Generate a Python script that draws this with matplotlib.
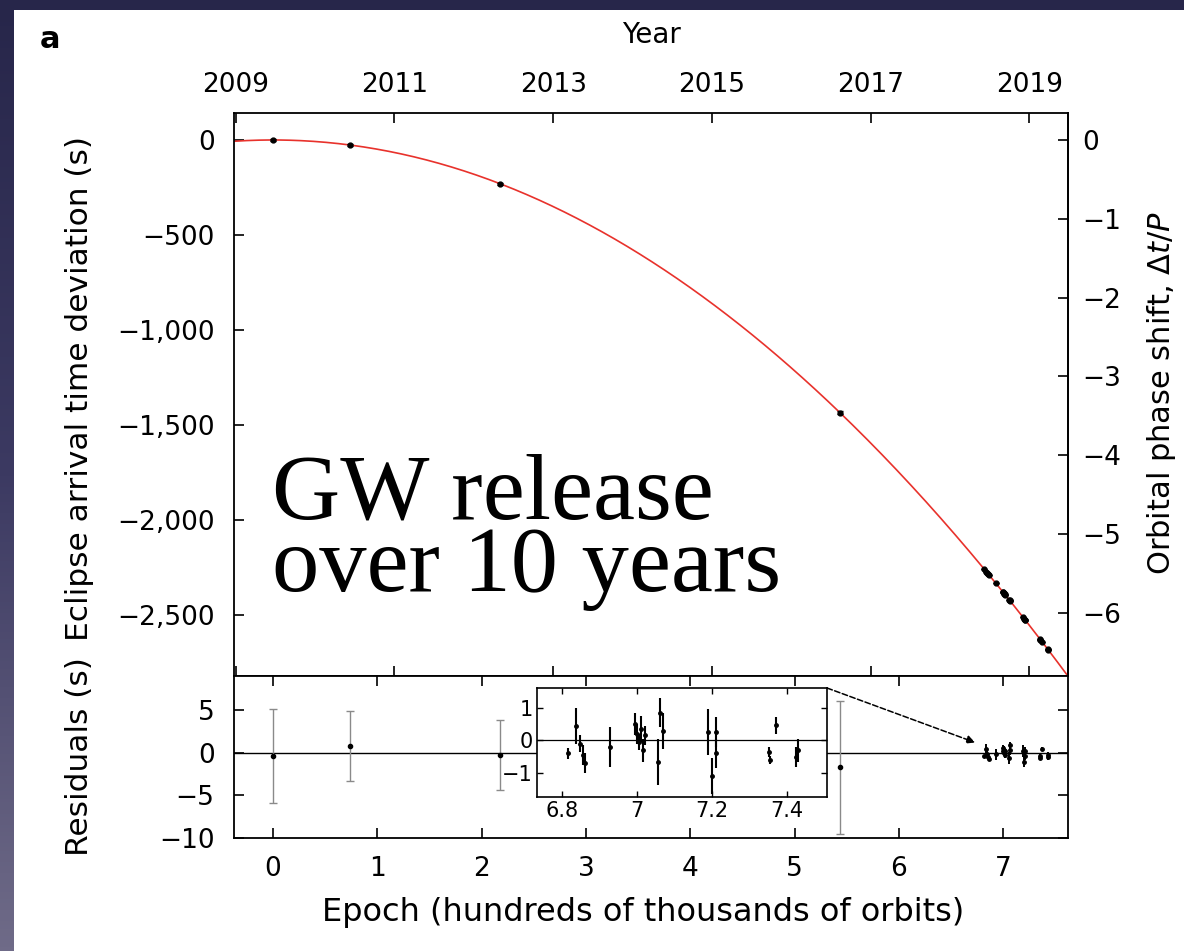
import numpy as np
import matplotlib.pyplot as plt
from matplotlib.colors import LinearSegmentedColormap
from matplotlib.patches import Rectangle
from matplotlib.ticker import FuncFormatter

W, H = 1184, 951

P_ORB = 414.79                                   # orbital period (s)
ORB_PER_YEAR = 365.25 * 86400 / P_ORB / 1e5      # 1e5 orbits per year
YEAR_AT_EPOCH0 = 2009.47
DECAY = -48.6                                    # s per (1e5 orbits)^2

# eclipse timings: epoch (1e5 orbits), residual (s), 1-sigma error (s)
early_epoch = [0.0, 0.735, 2.18, 5.43]
early_resid = [-0.4, 0.8, -0.3, -1.7]
early_err = [5.5, 4.1, 4.1, 7.8]

late_epoch = [6.815, 6.838, 6.848, 6.855, 6.862, 6.928, 6.995, 7.000, 7.005, 7.010, 7.015, 7.020,
              7.055, 7.062, 7.068, 7.190, 7.200, 7.210, 7.212, 7.352, 7.356, 7.372, 7.425, 7.430]
late_resid = [-0.40, 0.45, -0.10, -0.45, -0.70, -0.20, 0.50, 0.20, -0.05, 0.35, -0.30, 0.15,
              -0.65, 0.85, 0.30, 0.25, -1.10, 0.25, -0.40, -0.35, -0.60, 0.46, -0.50, -0.30]
late_err = [0.18, 0.55, 0.25, 0.30, 0.30, 0.60, 0.35, 0.30, 0.25, 0.40, 0.35, 0.30,
            0.70, 0.45, 0.55, 0.70, 0.55, 0.45, 0.45, 0.15, 0.12, 0.26, 0.30, 0.35]

year_ticks = [2009, 2011, 2013, 2015, 2017, 2019]
delay_ticks = [0, -500, -1000, -1500, -2000, -2500]
phase_ticks = [0, -1, -2, -3, -4, -5, -6]
epoch_ticks = [0, 1, 2, 3, 4, 5, 6, 7]
resid_ticks = [5, 0, -5, -10]
inset_xticks = [6.8, 7.0, 7.2, 7.4]
inset_xlabels = ["6.8", "7", "7.2", "7.4"]
inset_yticks = [1, 0, -1]

XLIM = (-0.374, 7.62)


def year_to_epoch(year):
    return (np.asarray(year, dtype=float) - YEAR_AT_EPOCH0) * ORB_PER_YEAR


def model(epoch):
    return DECAY * np.asarray(epoch, dtype=float) ** 2


def px_axes(fig, x0, y0, x1, y1):
    # axes placed by pixel corners (top-left origin)
    return fig.add_axes([x0 / W, 1 - y1 / H, (x1 - x0) / W, (y1 - y0) / H])


def style_spines(ax, lw=1.3):
    for s in ax.spines.values():
        s.set_linewidth(lw)
        s.set_color("black")


plt.rcParams["font.family"] = ["DejaVu Sans"]
plt.rcParams["mathtext.fontset"] = "dejavusans"

fig = plt.figure(figsize=(W / 100, H / 100), dpi=100)

# slide background + white panel
bg = fig.add_axes([0, 0, 1, 1])
cmap = LinearSegmentedColormap.from_list("slide", ["#6f6b88", "#3c3a62", "#27264a"])
bg.imshow(np.linspace(0, 1, 256).reshape(-1, 1), cmap=cmap, origin="lower",
          extent=[0, 1, 0, 1], aspect="auto")
bg.add_patch(Rectangle((14 / W, 0), 1, 1 - 10 / H, transform=bg.transAxes,
                       facecolor="white", edgecolor="none"))
bg.set_axis_off()

tick_kw = dict(direction="in", length=7, width=1.2, labelsize=19)

# ---------------- top panel: arrival time deviation ----------------
ax_top = px_axes(fig, 234, 113, 1068, 676)
style_spines(ax_top)
curve_x = np.linspace(XLIM[0], XLIM[1], 400)
ax_top.plot(curve_x, model(curve_x), color="#e8322c", lw=1.2, zorder=2)

all_epoch = early_epoch + late_epoch
all_resid = early_resid + late_resid
all_err = early_err + late_err
ax_top.errorbar(all_epoch, model(all_epoch) + np.array(all_resid), yerr=all_err,
                fmt="o", color="black", ms=3.5, lw=1, capsize=2, zorder=3)

ax_top.set_xlim(XLIM)
ax_top.set_ylim(-2821, 142)
ax_top.set_yticks(delay_ticks)
ax_top.yaxis.set_major_formatter(
    FuncFormatter(lambda v, pos: f"{v:,.0f}".replace("-", "\u2212")))
ax_top.set_xticks(year_to_epoch(year_ticks))
ax_top.set_xticklabels([str(y) for y in year_ticks])
ax_top.tick_params(axis="x", top=True, bottom=True, labeltop=True, labelbottom=False,
                   pad=11, **tick_kw)
ax_top.tick_params(axis="y", left=True, right=False, pad=14, **tick_kw)
ax_top.xaxis.set_label_position("top")
ax_top.set_xlabel("Year", fontsize=20, va="center")
ax_top.xaxis.set_label_coords(0.5, 1.139)
ax_top.set_ylabel("Eclipse arrival time deviation (s)", fontsize=22.5, va="center")
ax_top.yaxis.set_label_coords(-0.185, 0.51)

# orbital phase on the right-hand axis
sec = ax_top.secondary_yaxis("right", functions=(lambda t: t / P_ORB, lambda p: p * P_ORB))
sec.set_yticks(phase_ticks)
sec.tick_params(pad=10, **tick_kw)
sec.spines["right"].set_linewidth(1.3)
fig.text(1162 / W, 1 - 393 / H, r"Orbital phase shift, $\Delta t/P$", fontsize=22,
         rotation=90, ha="center", va="center")

ax_top.text((272 - 234) / 834, 0.255, "GW release\nover 10 years",
            transform=ax_top.transAxes, family="Liberation Serif", fontsize=68,
            ha="left", va="center", linespacing=0.8)

# ---------------- residual panel ----------------
ax_res = px_axes(fig, 234, 676, 1068, 838)
style_spines(ax_res)
ax_res.axhline(0, color="black", lw=1)
ax_res.errorbar(early_epoch, early_resid, yerr=early_err, fmt="o", color="black",
                ecolor="#8a8a8a", ms=3, lw=1, capsize=3, zorder=3)
ax_res.errorbar(late_epoch, late_resid, yerr=late_err, fmt="o", color="black",
                ms=2.5, lw=1.4, capsize=0, zorder=3)
ax_res.set_xlim(XLIM)
ax_res.set_ylim(-10, 9)
ax_res.set_xticks(epoch_ticks)
ax_res.set_yticks(resid_ticks)
ax_res.tick_params(axis="x", top=True, bottom=True, pad=13, **tick_kw)
ax_res.tick_params(axis="y", left=True, right=True, pad=14, **tick_kw)
ax_res.set_xlabel("Epoch (hundreds of thousands of orbits)", fontsize=23, va="center")
ax_res.xaxis.set_label_coords(0.49, -0.457)
ax_res.set_ylabel("Residuals (s)", fontsize=22.5, va="center")
ax_res.yaxis.set_label_coords(-0.185, 0.5)

# ---------------- zoomed inset of the recent eclipses ----------------
ax_in = px_axes(fig, 537, 688, 827, 797)
style_spines(ax_in, 1.2)
ax_in.axhline(0, color="black", lw=0.9)
ax_in.errorbar(late_epoch, late_resid, yerr=late_err, fmt="o", color="black",
               ms=2.5, lw=1.5, capsize=0, zorder=3)
ax_in.set_xlim(6.733, 7.507)
ax_in.set_ylim(-1.73, 1.6)
ax_in.set_xticks(inset_xticks)
ax_in.set_xticklabels(inset_xlabels)
ax_in.set_yticks(inset_yticks)
ax_in.tick_params(direction="in", length=4, width=1, labelsize=15, pad=3,
                  top=True, right=True)

ax_res.annotate("", xy=(6.73, 1.2), xycoords="data", xytext=(1, 1),
                textcoords=ax_in.transAxes,
                arrowprops=dict(arrowstyle="-|>", linestyle="--", color="black",
                                lw=1.1, mutation_scale=12, shrinkA=0, shrinkB=0))

fig.text(50 / W, 1 - 39 / H, "a", fontsize=22, fontweight="bold", ha="center", va="center")

fig.savefig("out.png", dpi=100)
